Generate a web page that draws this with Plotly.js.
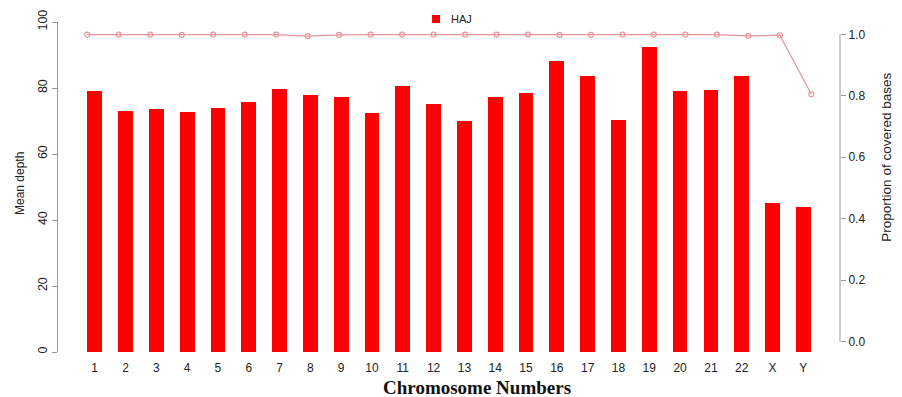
<!DOCTYPE html>
<html>
<head>
<meta charset="utf-8">
<script src="https://cdn.plot.ly/plotly-3.0.1.min.js"></script>
<style>html,body{margin:0;padding:0;background:#fff;}#chart{width:902px;height:397px;}</style>
</head>
<body>
<div id="chart"></div>
<script>
var chromosomes = ["1","2","3","4","5","6","7","8","9","10","11","12","13","14","15","16","17","18","19","20","21","22","X","Y"];
var meanDepth = [79.1,72.9,73.5,72.7,73.8,75.9,79.8,77.9,77.2,72.4,80.6,75.1,69.9,77.2,78.4,88.2,83.7,70.4,92.4,79.2,79.5,83.6,45.2,43.9];
var coveredProportion = [0.999,0.999,0.999,0.998,0.999,0.999,0.999,0.994,0.998,0.999,0.999,0.999,0.999,0.999,0.999,0.998,0.998,0.999,0.999,0.999,0.999,0.995,0.997,0.805];
var seriesName = "HAJ";
var leftTicks = [0,20,40,60,80,100];
var rightTicks = [0,0.2,0.4,0.6,0.8,1.0];

var idx = chromosomes.map(function(_, i){ return i; });
var barColor = "#ff0000";
var lineColor = "#e6939c";

var bars = {
  type: "bar",
  name: seriesName,
  x: idx,
  y: meanDepth,
  xaxis: "x",
  yaxis: "y",
  width: 0.48,
  marker: {color: barColor, line: {width: 0}},
  showlegend: false,
  hoverinfo: "skip"
};
var line = {
  type: "scatter",
  mode: "lines+markers",
  x: idx,
  y: coveredProportion,
  xaxis: "x2",
  yaxis: "y2",
  line: {color: lineColor, width: 1.2},
  marker: {symbol: "circle-open", size: 5, color: lineColor, line: {width: 1.1, color: lineColor}},
  showlegend: false,
  hoverinfo: "skip"
};

var axisGray = "#9a9a9a";
var tickFont = {family: "Liberation Sans, Arial, sans-serif", size: 12, color: "#222"};

var layout = {
  width: 902,
  height: 397,
  margin: {l: 58, r: 62, t: 22, b: 45, pad: 0},
  paper_bgcolor: "#fff",
  plot_bgcolor: "#fff",
  bargap: 0,
  showlegend: false,
  xaxis: {
    range: [-1.19, 24.19],
    tickmode: "array",
    tickvals: idx,
    ticktext: chromosomes,
    ticks: "outside", ticklen: 5, tickcolor: "rgba(0,0,0,0)",
    showline: false, showgrid: false, zeroline: false,
    tickfont: tickFont,
    fixedrange: true
  },
  xaxis2: {
    overlaying: "x",
    range: [-0.93, 23.91],
    visible: false,
    fixedrange: true
  },
  yaxis: {
    range: [0, 100],
    tickmode: "array",
    tickvals: leftTicks,
    ticktext: leftTicks.map(String),
    tickangle: -90,
    ticks: "outside", ticklen: 5, tickcolor: axisGray, tickwidth: 1,
    showline: true, linecolor: axisGray, linewidth: 1,
    showgrid: false, zeroline: false,
    tickfont: {family: "Liberation Sans, Arial, sans-serif", size: 12.5, color: "#222"},
    fixedrange: true
  },
  yaxis2: {
    overlaying: "y",
    side: "right",
    range: [-0.0335, 1.040],
    tickmode: "array",
    tickvals: rightTicks,
    ticktext: rightTicks.map(function(v){ return v.toFixed(1); }),
    ticks: "outside", ticklen: 5, tickcolor: axisGray, tickwidth: 1,
    showline: false, showgrid: false, zeroline: false,
    tickfont: tickFont,
    fixedrange: true
  },
  shapes: [
    {type: "line", xref: "paper", yref: "y2", x0: 1, x1: 1, y0: rightTicks[0], y1: rightTicks[rightTicks.length-1],
     line: {color: axisGray, width: 1}},
    {type: "rect", xref: "paper", yref: "paper", x0: 0.4783, x1: 0.4885, y0: 0.997, y1: 1.0212,
     fillcolor: barColor, line: {width: 0}}
  ],
  annotations: [
    {text: seriesName, xref: "paper", yref: "paper", x: 0.4995, y: 1.009, showarrow: false,
     xanchor: "left", yanchor: "middle",
     font: {family: "Liberation Sans, Arial, sans-serif", size: 11, color: "#222"}},
    {text: "Mean depth", xref: "paper", yref: "paper", x: -0.0486, y: 0.512, showarrow: false,
     textangle: -90, xanchor: "center", yanchor: "middle",
     font: {family: "Liberation Sans, Arial, sans-serif", size: 12, color: "#222"}},
    {text: "Proportion of covered bases", xref: "paper", yref: "paper", x: 1.0597, y: 0.591, showarrow: false,
     textangle: -90, xanchor: "center", yanchor: "middle",
     font: {family: "Liberation Sans, Arial, sans-serif", size: 13.5, color: "#222"}},
    {text: "<b>Chromosome Numbers</b>", xref: "paper", yref: "paper", x: 0.536, y: -0.108, showarrow: false,
     xanchor: "center", yanchor: "middle",
     font: {family: "Liberation Serif, Times New Roman, serif", size: 19, color: "#111"}}
  ]
};

Plotly.newPlot("chart", [bars, line], layout, {displayModeBar: false, staticPlot: true});
</script>
</body>
</html>
